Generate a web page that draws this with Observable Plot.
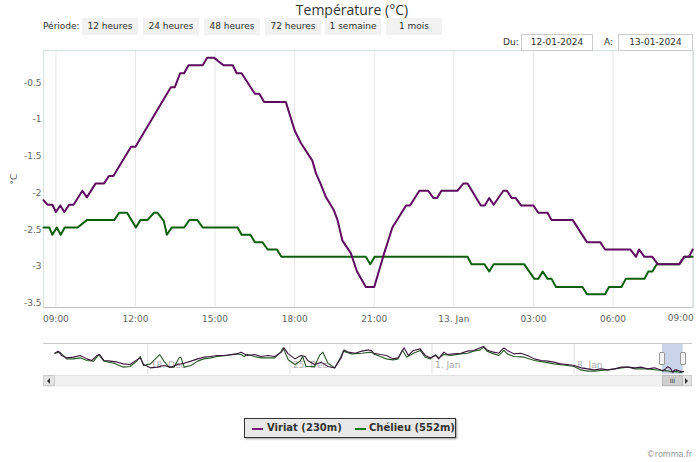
<!DOCTYPE html>
<html><head><meta charset="utf-8">
<script src="https://cdn.jsdelivr.net/npm/d3@7"></script>
<script src="https://cdn.jsdelivr.net/npm/@observablehq/plot@0.6"></script>
<style>
body{margin:0;background:#fff;font-family:"DejaVu Sans",sans-serif;}
#page{position:relative;width:700px;height:462px;overflow:hidden;background:#fff;}
.abs{position:absolute;}
#title{left:2px;width:700px;top:0;text-align:center;font-family:"Open Sans",sans-serif;font-size:14px;color:#333;line-height:19px;}
.lbl{font-size:9px;color:#333;}
.btn{position:absolute;top:18px;height:17px;width:56px;background:#f2f2f2;font-size:9px;color:#333;text-align:center;line-height:17px;}
.datebox{position:absolute;top:34px;height:15px;border:1px solid #ccc;background:#fff;font-size:9px;color:#333;text-align:center;line-height:15px;}
#legend{left:244px;top:418px;width:210px;height:18px;border:1px solid #333;background:#e8e8e8;box-shadow:1px 1px 2px #999;font-size:10px;font-weight:bold;color:#333;}
.sw{position:absolute;top:9px;width:11px;height:2px;}
.lt{position:absolute;top:2px;line-height:14px;}
#credit{right:8px;top:450px;font-size:8px;color:#999;}
</style>
</head><body>
<div id="page">
  <div id="main" class="abs" style="left:0;top:45px;"></div>
  <div id="navline" class="abs" style="left:43px;top:343px;width:649px;height:1px;background:#c8c8c8;"></div>
  <div id="nav" class="abs" style="left:0;top:341px;"></div>
  <div id="title" class="abs">Température (°C)</div>
  <div class="abs lbl" style="left:43px;top:21px;">Période:</div>
  <div id="buttons"></div>
  <div class="abs lbl" style="left:503px;top:37px;">Du:</div>
  <div class="datebox" style="left:521px;width:70px;">12-01-2024</div>
  <div class="abs lbl" style="left:604px;top:37px;">A:</div>
  <div class="datebox" style="left:618px;width:73px;">13-01-2024</div>
  <div id="scroll"></div>
  <div id="legend" class="abs">
    <div class="sw" style="left:7px;background:#7a1a7a;"></div>
    <div class="lt" style="left:22px;">Viriat (230m)</div>
    <div class="sw" style="left:110px;background:#1a7a1a;"></div>
    <div class="lt" style="left:124px;">Chélieu (552m)</div>
  </div>
  <div id="credit" class="abs">©romma.fr</div>
</div>
<script>
// ---- data ----
const periodButtons = ["12 heures","24 heures","48 heures","72 heures","1 semaine","1 mois"];
const stations = ["Viriat (230m)", "Chélieu (552m)"];

const viriatTimes = ["2024-01-12T08:32","2024-01-12T08:41","2024-01-12T08:52","2024-01-12T09:00","2024-01-12T09:10","2024-01-12T09:19","2024-01-12T09:30","2024-01-12T09:40","2024-01-12T10:00","2024-01-12T10:10","2024-01-12T10:30","2024-01-12T10:49","2024-01-12T11:00","2024-01-12T11:10","2024-01-12T11:50","2024-01-12T12:00","2024-01-12T13:20","2024-01-12T13:29","2024-01-12T13:41","2024-01-12T13:50","2024-01-12T14:00","2024-01-12T14:32","2024-01-12T14:42","2024-01-12T14:58","2024-01-12T15:19","2024-01-12T15:40","2024-01-12T15:49","2024-01-12T16:00","2024-01-12T16:30","2024-01-12T16:40","2024-01-12T16:51","2024-01-12T17:40","2024-01-12T18:00","2024-01-12T18:14","2024-01-12T18:40","2024-01-12T18:48","2024-01-12T18:59","2024-01-12T19:11","2024-01-12T19:29","2024-01-12T19:37","2024-01-12T19:48","2024-01-12T20:07","2024-01-12T20:21","2024-01-12T20:41","2024-01-12T21:00","2024-01-12T21:22","2024-01-12T21:41","2024-01-12T22:12","2024-01-12T22:21","2024-01-12T22:42","2024-01-12T23:02","2024-01-12T23:14","2024-01-12T23:22","2024-01-12T23:32","2024-01-13T00:08","2024-01-13T00:22","2024-01-13T00:31","2024-01-13T01:01","2024-01-13T01:10","2024-01-13T01:20","2024-01-13T01:30","2024-01-13T01:52","2024-01-13T02:00","2024-01-13T02:11","2024-01-13T02:20","2024-01-13T02:32","2024-01-13T03:00","2024-01-13T03:11","2024-01-13T03:32","2024-01-13T03:41","2024-01-13T04:29","2024-01-13T05:01","2024-01-13T05:31","2024-01-13T05:42","2024-01-13T06:39","2024-01-13T06:52","2024-01-13T06:59","2024-01-13T07:11","2024-01-13T07:29","2024-01-13T07:41","2024-01-13T08:30","2024-01-13T08:41","2024-01-13T08:52","2024-01-13T09:00"];
const viriatTemps = [-2.10,-2.16,-2.16,-2.26,-2.17,-2.26,-2.16,-2.16,-1.97,-2.06,-1.87,-1.87,-1.77,-1.77,-1.37,-1.37,-0.56,-0.56,-0.37,-0.37,-0.26,-0.26,-0.16,-0.16,-0.26,-0.26,-0.37,-0.37,-0.65,-0.65,-0.76,-0.76,-1.15,-1.32,-1.56,-1.73,-1.88,-2.06,-2.24,-2.37,-2.65,-2.82,-3.07,-3.28,-3.28,-2.83,-2.47,-2.17,-2.17,-1.97,-1.97,-2.07,-2.07,-1.97,-1.97,-1.87,-1.87,-2.17,-2.17,-2.07,-2.16,-1.97,-1.97,-2.07,-2.07,-2.17,-2.17,-2.27,-2.27,-2.37,-2.37,-2.67,-2.67,-2.77,-2.77,-2.87,-2.77,-2.87,-2.87,-2.97,-2.97,-2.87,-2.87,-2.77];

const chelieuTimes = ["2024-01-12T08:32","2024-01-12T08:45","2024-01-12T08:52","2024-01-12T09:02","2024-01-12T09:11","2024-01-12T09:20","2024-01-12T09:49","2024-01-12T10:10","2024-01-12T11:12","2024-01-12T11:23","2024-01-12T11:41","2024-01-12T12:01","2024-01-12T12:11","2024-01-12T12:27","2024-01-12T12:42","2024-01-12T12:50","2024-01-12T13:04","2024-01-12T13:11","2024-01-12T13:22","2024-01-12T13:50","2024-01-12T14:02","2024-01-12T14:20","2024-01-12T14:32","2024-01-12T15:51","2024-01-12T16:00","2024-01-12T16:20","2024-01-12T16:30","2024-01-12T16:47","2024-01-12T16:59","2024-01-12T17:20","2024-01-12T17:30","2024-01-12T20:41","2024-01-12T20:51","2024-01-12T21:01","2024-01-13T00:31","2024-01-13T00:40","2024-01-13T01:09","2024-01-13T01:20","2024-01-13T01:30","2024-01-13T02:39","2024-01-13T03:02","2024-01-13T03:11","2024-01-13T03:21","2024-01-13T03:32","2024-01-13T03:41","2024-01-13T03:51","2024-01-13T04:51","2024-01-13T05:01","2024-01-13T05:42","2024-01-13T05:51","2024-01-13T06:19","2024-01-13T06:29","2024-01-13T07:11","2024-01-13T07:20","2024-01-13T07:29","2024-01-13T07:39","2024-01-13T08:30","2024-01-13T08:41","2024-01-13T09:00"];
const chelieuTemps = [-2.47,-2.47,-2.57,-2.47,-2.57,-2.47,-2.47,-2.37,-2.37,-2.27,-2.27,-2.47,-2.37,-2.37,-2.27,-2.27,-2.38,-2.57,-2.47,-2.47,-2.37,-2.37,-2.47,-2.47,-2.57,-2.57,-2.67,-2.67,-2.77,-2.77,-2.87,-2.87,-2.97,-2.87,-2.87,-2.97,-2.97,-3.07,-2.97,-2.97,-3.17,-3.17,-3.07,-3.17,-3.17,-3.28,-3.28,-3.38,-3.38,-3.28,-3.28,-3.17,-3.17,-3.07,-3.07,-2.97,-2.97,-2.87,-2.87];

// navigator (one month overview), before the selected range
const navViriatTimes = ["2023-12-13T10:00","2023-12-13T14:00","2023-12-13T18:00","2023-12-14T00:00","2023-12-14T08:00","2023-12-14T16:00","2023-12-15T00:00","2023-12-15T06:00","2023-12-15T12:00","2023-12-15T15:00","2023-12-15T20:00","2023-12-16T04:00","2023-12-16T12:00","2023-12-16T19:00","2023-12-17T03:00","2023-12-17T11:00","2023-12-17T15:00","2023-12-17T19:00","2023-12-18T03:00","2023-12-18T11:00","2023-12-18T19:00","2023-12-19T03:00","2023-12-19T11:00","2023-12-19T19:00","2023-12-20T03:00","2023-12-20T11:00","2023-12-20T18:00","2023-12-21T02:00","2023-12-21T10:00","2023-12-21T18:00","2023-12-22T02:00","2023-12-22T10:00","2023-12-22T14:00","2023-12-22T22:00","2023-12-23T06:00","2023-12-23T14:00","2023-12-23T22:00","2023-12-24T06:00","2023-12-24T14:00","2023-12-24T17:00","2023-12-24T22:00","2023-12-25T06:00","2023-12-25T13:00","2023-12-25T18:00","2023-12-25T21:00","2023-12-26T05:00","2023-12-26T13:00","2023-12-26T21:00","2023-12-27T05:00","2023-12-27T13:00","2023-12-27T16:00","2023-12-27T21:00","2023-12-28T05:00","2023-12-28T13:00","2023-12-28T21:00","2023-12-29T00:00","2023-12-29T03:00","2023-12-29T11:00","2023-12-29T18:00","2023-12-30T02:00","2023-12-30T08:00","2023-12-30T13:00","2023-12-30T15:00","2023-12-30T20:00","2023-12-31T02:00","2023-12-31T10:00","2023-12-31T16:00","2023-12-31T22:00","2024-01-01T04:00","2024-01-01T08:00","2024-01-01T14:00","2024-01-01T18:00","2024-01-02T02:00","2024-01-02T10:00","2024-01-02T18:00","2024-01-03T01:00","2024-01-03T09:00","2024-01-03T13:00","2024-01-03T17:00","2024-01-04T01:00","2024-01-04T07:00","2024-01-04T13:00","2024-01-04T17:00","2024-01-05T01:00","2024-01-05T09:00","2024-01-05T17:00","2024-01-06T01:00","2024-01-06T09:00","2024-01-06T17:00","2024-01-07T00:00","2024-01-07T08:00","2024-01-07T16:00","2024-01-08T00:00","2024-01-08T08:00","2024-01-08T16:00","2024-01-09T00:00","2024-01-09T08:00","2024-01-09T16:00","2024-01-10T00:00","2024-01-10T08:00","2024-01-10T16:00","2024-01-11T00:00","2024-01-11T07:00","2024-01-11T15:00","2024-01-11T23:00","2024-01-12T07:00"];
const navViriatTemps = [7.8,9.0,6.5,5.1,5.5,6.5,4.5,3.6,6.5,7.0,3.6,3.2,2.6,1.6,1.2,3.9,5.1,1.2,-0.7,-0.3,0.7,-0.3,1.2,2.0,3.2,4.5,5.5,5.9,6.5,6.5,7.0,7.4,8.4,6.5,7.0,5.9,6.5,5.9,8.4,10.9,7.4,4.5,6.5,5.9,3.6,1.2,2.6,0.1,-0.7,5.5,9.7,8.4,7.8,9.0,9.7,9.4,7.8,7.0,6.5,4.5,5.1,9.4,10.9,6.5,9.4,10.3,6.5,5.1,6.5,4.5,8.4,7.0,7.4,7.8,9.0,9.4,10.9,11.7,9.7,8.4,7.8,10.9,9.4,7.4,7.8,6.5,4.5,3.6,3.2,2.6,1.6,1.2,0.7,-0.7,-1.3,-1.9,-1.3,-1.9,-1.3,-0.3,-0.3,-0.7,-0.3,-1.3,-0.7,-1.9];

const navChelieuTimes = ["2023-12-13T10:00","2023-12-13T16:00","2023-12-14T00:00","2023-12-14T08:00","2023-12-14T16:00","2023-12-15T00:00","2023-12-15T08:00","2023-12-15T14:00","2023-12-15T20:00","2023-12-16T08:00","2023-12-16T19:00","2023-12-17T03:00","2023-12-17T11:00","2023-12-17T15:00","2023-12-17T19:00","2023-12-18T03:00","2023-12-18T09:00","2023-12-18T14:00","2023-12-18T19:00","2023-12-19T01:00","2023-12-19T07:00","2023-12-19T13:00","2023-12-19T15:00","2023-12-19T19:00","2023-12-20T03:00","2023-12-20T11:00","2023-12-20T18:00","2023-12-21T02:00","2023-12-21T10:00","2023-12-21T22:00","2023-12-22T10:00","2023-12-22T14:00","2023-12-22T18:00","2023-12-22T22:00","2023-12-23T06:00","2023-12-23T14:00","2023-12-24T06:00","2023-12-24T13:00","2023-12-24T16:00","2023-12-24T22:00","2023-12-25T06:00","2023-12-25T12:00","2023-12-25T15:00","2023-12-25T19:00","2023-12-26T05:00","2023-12-26T11:00","2023-12-26T15:00","2023-12-26T21:00","2023-12-27T05:00","2023-12-27T11:00","2023-12-27T15:00","2023-12-28T01:00","2023-12-28T13:00","2023-12-29T00:00","2023-12-29T03:00","2023-12-29T11:00","2023-12-29T18:00","2023-12-30T02:00","2023-12-30T08:00","2023-12-30T13:00","2023-12-30T18:00","2023-12-31T02:00","2023-12-31T10:00","2023-12-31T16:00","2023-12-31T22:00","2024-01-01T04:00","2024-01-01T08:00","2024-01-01T14:00","2024-01-01T22:00","2024-01-02T10:00","2024-01-02T18:00","2024-01-03T01:00","2024-01-03T09:00","2024-01-03T13:00","2024-01-03T17:00","2024-01-04T01:00","2024-01-04T07:00","2024-01-04T13:00","2024-01-04T17:00","2024-01-05T01:00","2024-01-05T13:00","2024-01-06T01:00","2024-01-06T13:00","2024-01-07T00:00","2024-01-07T16:00","2024-01-08T00:00","2024-01-08T08:00","2024-01-08T16:00","2024-01-09T00:00","2024-01-09T08:00","2024-01-09T16:00","2024-01-10T08:00","2024-01-10T16:00","2024-01-11T00:00","2024-01-11T15:00","2024-01-12T07:00"];
const navChelieuTemps = [7.8,8.4,4.5,4.5,5.1,3.6,3.2,7.0,3.2,2.0,-0.3,0.1,3.2,5.9,0.7,1.6,4.5,7.0,3.2,-0.3,-0.3,5.1,5.5,-0.3,0.7,3.2,4.5,5.1,5.9,6.5,7.4,7.0,5.9,7.0,5.9,5.1,5.1,8.4,10.9,4.0,1.2,3.2,5.9,0.1,0.1,6.5,8.4,2.0,-0.7,4.5,9.0,7.4,7.8,8.4,7.4,5.9,4.5,3.9,4.5,9.7,5.5,7.8,9.4,5.5,4.5,7.0,5.1,7.0,6.5,7.4,7.8,9.0,9.7,11.3,9.0,7.4,6.5,9.4,7.4,5.9,5.5,3.6,2.6,1.6,0.7,0.1,-1.9,-2.6,-2.6,-2.2,-1.9,-0.7,-0.3,-1.3,-1.3,-2.2];

// axes
const xDomain = ["2024-01-12T08:32","2024-01-13T09:02"];
const yDomain = [-3.56, -0.06];
const yTicks = [-3.5,-3,-2.5,-2,-1.5,-1,-0.5];
const xTickTimes = ["2024-01-12T09:00","2024-01-12T12:00","2024-01-12T15:00","2024-01-12T18:00","2024-01-12T21:00","2024-01-13T00:00","2024-01-13T03:00","2024-01-13T06:00","2024-01-13T09:00"];
const xTickLabels = ["09:00","12:00","15:00","18:00","21:00","13. Jan","03:00","06:00","09:00"];
const navDomain = ["2023-12-12T20:40","2024-01-13T09:20"];
const navYDomain = [-4.56, 12.84];
const navTickTimes = ["2023-12-18T00:00","2023-12-25T00:00","2024-01-01T00:00","2024-01-08T00:00"];
const navTickLabels = ["18. Dec","25. Dec","1. Jan","8. Jan"];

// ---- build ----
const parse = s => new Date(s + ":00Z");
const COLORS = ["#5e0a5e", "#0c5f0c"];
const mk = (times, temps, st) => times.map((t, i) => ({time: parse(t), temp: temps[i], station: st}));
const viriat = mk(viriatTimes, viriatTemps, stations[0]);
const chelieu = mk(chelieuTimes, chelieuTemps, stations[1]);
const navViriat = mk(navViriatTimes, navViriatTemps, stations[0]).concat(viriat);
const navChelieu = mk(navChelieuTimes, navChelieuTemps, stations[1]).concat(chelieu);

const bDiv = document.getElementById("buttons");
const bLeft = [82,143,204,265,325,386];
periodButtons.forEach((b,i) => {
  const d = document.createElement("div");
  d.className = "btn"; d.style.left = bLeft[i] + "px"; d.textContent = b; bDiv.appendChild(d);
});

const xt = xTickTimes.map(parse);
const labelOf = new Map(xt.map((d,i) => [+d, xTickLabels[i]]));
const lastTick = [{t: xt[xt.length-1], label: xTickLabels[xTickLabels.length-1]}];

const main = Plot.plot({
  width: 700, height: 290,
  marginTop: 5, marginBottom: 28, marginLeft: 43, marginRight: 7,
  style: {fontFamily: "DejaVu Sans", fontSize: "9px", color: "#666", background: "transparent"},
  x: {type: "utc", domain: xDomain.map(parse)},
  y: {domain: yDomain},
  marks: [
    Plot.gridX(xt, {stroke: "#e6e6e6", strokeOpacity: 1}),
    Plot.frame({stroke: "#d6e2e2"}),
    Plot.ruleY([yDomain[0]], {stroke: "#c0c0c0"}),
    Plot.axisY(yTicks, {tickSize: 0, tickPadding: 2, tickFormat: d => String(d), label: "°C",
      labelAnchor: "center", labelArrow: "none", labelOffset: 33, fill: "#666"}),
    Plot.axisX(xt.slice(0, -1), {tickSize: 0, tickPadding: 8, tickFormat: d => labelOf.get(+d), label: null, fill: "#666"}),
    Plot.text(lastTick, {x: "t", text: "label", frameAnchor: "bottom", textAnchor: "end", dy: 13, dx: 1, fill: "#666"}),
    Plot.line(chelieu, {x: "time", y: "temp", stroke: COLORS[1], strokeWidth: 2}),
    Plot.line(viriat, {x: "time", y: "temp", stroke: COLORS[0], strokeWidth: 2})
  ]
});
document.getElementById("main").appendChild(main);

const nt = navTickTimes.map(parse);
const navLabel = new Map(nt.map((d,i) => [+d, navTickLabels[i]]));
const sel = [{x1: parse(xDomain[0]), x2: parse(viriatTimes[viriatTimes.length-1])}];
const nav = Plot.plot({
  width: 700, height: 33,
  marginTop: 3, marginBottom: 0, marginLeft: 43, marginRight: 17,
  style: {fontFamily: "DejaVu Sans", fontSize: "9px", background: "transparent"},
  x: {type: "utc", domain: navDomain.map(parse), axis: null},
  y: {domain: navYDomain, axis: null},
  marks: [
    Plot.gridX(nt, {stroke: "#e0e0e0", strokeOpacity: 1}),
    Plot.text(nt, {x: d => d, text: d => navLabel.get(+d), frameAnchor: "bottom", textAnchor: "start", dx: 3, dy: -7, fill: "#aaa"}),
    Plot.rect(sel, {x1: "x1", x2: "x2", fill: "#6685c2", fillOpacity: 0.35}),
    Plot.line(navChelieu, {x: "time", y: "temp", stroke: "#2b5a2b", strokeWidth: 1.1}),
    Plot.line(navViriat, {x: "time", y: "temp", stroke: "#3a1a3a", strokeWidth: 1.1})
  ]
});
document.getElementById("nav").appendChild(nav);

// scrollbar and handles positioned from the navigator's x scale
const sx = nav.scale("x");
const hx1 = sx.apply(sel[0].x1), hx2 = sx.apply(sel[0].x2);
const sc = document.getElementById("scroll");
sc.innerHTML = `
 <div class="abs" style="left:43px;top:375px;width:649px;height:11px;background:#f0f0f0;border-top:1px solid #e0e0e0;"></div>
 <div class="abs" style="left:43px;top:375px;width:12px;height:11px;background:#e4e4e4;border:1px solid #ccc;box-sizing:border-box;"></div>
 <div class="abs" style="left:47px;top:378px;width:0;height:0;border-top:3px solid transparent;border-bottom:3px solid transparent;border-right:3px solid #333;"></div>
 <div class="abs" style="left:680px;top:375px;width:12px;height:11px;background:#e4e4e4;border:1px solid #ccc;box-sizing:border-box;"></div>
 <div class="abs" style="left:685px;top:378px;width:0;height:0;border-top:3px solid transparent;border-bottom:3px solid transparent;border-left:3px solid #333;"></div>
 <div class="abs" style="left:${hx1}px;top:375px;width:${hx2-hx1}px;height:11px;background:#cfcfcf;border:1px solid #bbb;box-sizing:border-box;font-size:6px;line-height:9px;text-align:center;color:#333;">III</div>
 <div class="abs" style="left:${hx1-3}px;top:352px;width:6px;height:13px;background:#f2f2f2;border:1px solid #999;border-radius:1px;box-sizing:border-box;"></div>
 <div class="abs" style="left:${hx2-3}px;top:352px;width:6px;height:13px;background:#f2f2f2;border:1px solid #999;border-radius:1px;box-sizing:border-box;"></div>`;
</script>
</body></html>
